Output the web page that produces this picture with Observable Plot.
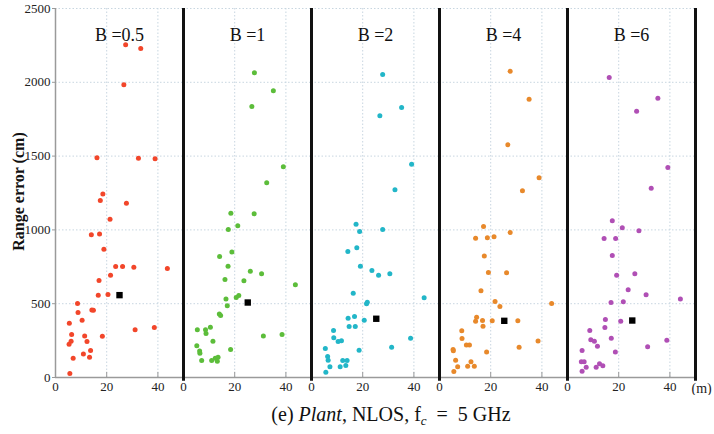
<!DOCTYPE html>
<html>
<head>
<meta charset="utf-8">
<script src="https://cdn.jsdelivr.net/npm/d3@7"></script>
<script src="https://cdn.jsdelivr.net/npm/@observablehq/plot@0.6"></script>
<style>
  body { margin: 0; background: #fff; }
  #wrap { position: relative; width: 714px; height: 434px; font-family: "Liberation Serif", "Times New Roman", Times, "DejaVu Serif", serif; }
  #chart svg, #chart svg text { font-family: "Liberation Serif", "Times New Roman", Times, "DejaVu Serif", serif !important; }
  #cap { position: absolute; top: 404px; left: 391px; transform: translateX(-50%); white-space: nowrap;
         font-size: 20px; line-height: 20px; font-family: "Liberation Serif", "Times New Roman", Times, "DejaVu Serif", serif; color: #111; }
  #cap sub { font-size: 13px; vertical-align: -4px; line-height: 0; }
</style>
</head>
<body>
<div id="wrap"><div id="chart"></div>
<div id="cap">(e) <i>Plant</i>, NLOS, f<sub><i>c</i></sub> &nbsp;=&nbsp; 5 GHz</div>
</div>
<script>
// Panels (bandwidth B)
const panels = ["0.5", "1", "2", "4", "6"];
const panelLabels = ["B =0.5", "B =1", "B =2", "B =4", "B =6"];
const panelColors = ["#f2462a", "#5cbd3a", "#22b6c8", "#e8892b", "#b04fb5"];

// Distance (m) and range error (cm) for each panel
const b05X = [27.4,33.3,26.7,16.2,32.4,38.9,18.5,17.5,27.7,21.3,14.0,17.2,18.9,23.5,26.2,30.6,43.7,21.5,17.0,16.7,20.5,8.6,8.8,14.2,14.8,10.4,5.4,6.3,11.4,18.3,12.3,6.1,5.3,31.1,38.6,13.7,10.9,13.3,6.9,5.6];
const b05Y = [2254,2229,1983,1488,1486,1482,1244,1199,1181,1073,967,973,869,752,752,747,738,693,657,558,562,501,440,458,455,388,368,291,282,280,244,246,226,323,339,183,160,138,131,27];

const b1X = [27.7,35.1,26.7,39.0,32.5,18.5,27.6,21.2,17.5,18.9,14.1,17.4,26.1,30.5,16.2,23.6,43.7,21.6,20.6,16.6,17.1,14.0,14.5,5.4,8.6,10.5,8.8,31.2,38.5,11.5,5.2,18.4,6.3,6.4,7.1,11.0,12.4,13.5,13.2];
const b1Y = [2064,1942,1836,1427,1319,1113,1109,1028,1003,851,820,754,720,703,664,655,628,556,542,531,486,430,420,323,323,341,298,282,291,246,215,190,180,165,115,115,131,138,110];

const b2X = [27.8,35.2,26.7,39.1,32.6,17.4,27.8,18.8,14.2,17.7,19.1,23.6,26.2,30.6,16.3,44.0,21.5,21.8,14.3,16.8,20.6,14.7,17.1,8.6,8.7,10.4,11.7,38.7,31.3,5.4,18.6,6.3,6.5,12.2,13.9,7.2,11.2,13.4,5.6];
const b2Y = [2053,1829,1773,1445,1272,1039,1003,989,854,879,754,725,693,703,571,540,500,510,402,413,388,346,346,318,269,244,249,266,205,196,185,142,117,115,115,72,72,81,36];

const b4X = [27.6,35.0,26.7,38.9,32.4,17.2,27.6,14.1,18.7,21.3,17.5,19.1,26.2,16.2,43.8,21.7,23.6,14.5,14.1,16.8,20.6,30.6,17.0,8.7,8.8,10.5,11.7,38.5,31.1,5.4,18.4,6.3,12.3,7.1,11.0,13.6,5.6,5.3];
const b4Y = [2075,1886,1577,1353,1265,1023,982,944,946,953,824,711,709,587,501,515,481,409,381,386,384,384,348,316,264,221,221,248,205,181,172,117,106,72,77,77,41,190];

const b6X = [16.3,35.3,27.0,39.2,32.7,17.5,21.4,27.9,14.3,18.8,17.5,19.2,26.3,23.7,30.7,44.1,17.0,21.8,14.8,20.8,14.6,8.7,17.1,9.1,10.5,11.7,38.8,31.3,5.7,18.7,5.4,6.5,7.3,11.2,12.5,13.8,5.7];
const b6Y = [2033,1892,1804,1423,1283,1062,1014,994,942,942,827,693,703,594,560,531,508,513,393,381,339,318,266,255,246,212,253,208,183,172,106,106,70,70,93,79,43];

// Mean of each panel (black square)
const meanX = [25.0, 25.1, 25.3, 25.3, 25.3];
const meanY = [558, 508, 398, 384, 386];

// Axis ticks
const yTicks = [0, 500, 1000, 1500, 2000, 2500];
const xTicks = [0, 20, 40];

const xs = [b05X, b1X, b2X, b4X, b6X];
const ys = [b05Y, b1Y, b2Y, b4Y, b6Y];
const points = [];
panels.forEach((p, i) => xs[i].forEach((x, j) => points.push({B: p, x, y: ys[i][j]})));
const means = panels.map((p, i) => ({B: p, x: meanX[i], y: meanY[i]}));
const labels = panels.map((p, i) => ({B: p, text: panelLabels[i]}));

const grid = "#c8d6e0";
const axisGray = "#9a9a9a";

const chart = Plot.plot({
  width: 714,
  height: 395,
  marginLeft: 53,
  marginRight: 18,
  marginTop: 8,
  marginBottom: 18,
  style: {background: "white"},
  fx: {domain: panels, padding: 0, axis: null},
  x: {domain: [0, 50]},
  y: {domain: [0, 2500]},
  color: {domain: panels, range: panelColors},
  marks: [
    Plot.ruleY(yTicks.slice(1), {stroke: grid, strokeDasharray: "1.5,2", strokeWidth: 1}),
    Plot.ruleX([20, 40], {y1: 0, y2: 2500, stroke: grid, strokeDasharray: "1.5,2", strokeWidth: 1}),
    Plot.ruleY([0], {stroke: axisGray, strokeWidth: 1.5}),
    Plot.ruleX([20, 40], {y1: 0, y2: 35, stroke: axisGray, strokeWidth: 1}),
    Plot.ruleX([{B: "0.5"}], {fx: "B", x: () => 0, y1: () => 0, y2: () => 2500, stroke: axisGray, strokeWidth: 1.5}),
    Plot.ruleX([50], {y1: -25, y2: 2500, stroke: "#111", strokeWidth: 3}),
    Plot.axisY({ticks: yTicks, tickFormat: d => String(d), tickSize: 3, tickPadding: 2, fontSize: 13, fill: "#222", stroke: axisGray, label: null}),
    Plot.axisX({ticks: xTicks, tickFormat: d => String(d), tickSize: 0, tickPadding: 4, fontSize: 13, fill: "#222", label: null}),
    Plot.dot(points, {fx: "B", x: "x", y: "y", fill: "B", r: 2.5, stroke: "none"}),
    Plot.dot(means, {fx: "B", x: "x", y: "y", symbol: "square", r: 3.6, fill: "black", stroke: "none"}),
    Plot.text(labels, {fx: "B", x: () => 25, y: () => 2320, text: "text", fontSize: 18, fill: "#111"}),
    Plot.text([{B: "6"}], {fx: "B", x: () => 50, y: () => 0, text: () => "(m)", textAnchor: "start", dx: -4, dy: 11, fontSize: 14, fill: "#222"}),
    Plot.text([{B: "0.5"}], {fx: "B", y: () => 1260, frameAnchor: "left", textAnchor: "middle", dx: -37, rotate: -90, text: () => "Range error (cm)", fontSize: 16, fontWeight: "bold", fill: "#111"})
  ]
});
document.getElementById("chart").appendChild(chart);
</script>
</body>
</html>
